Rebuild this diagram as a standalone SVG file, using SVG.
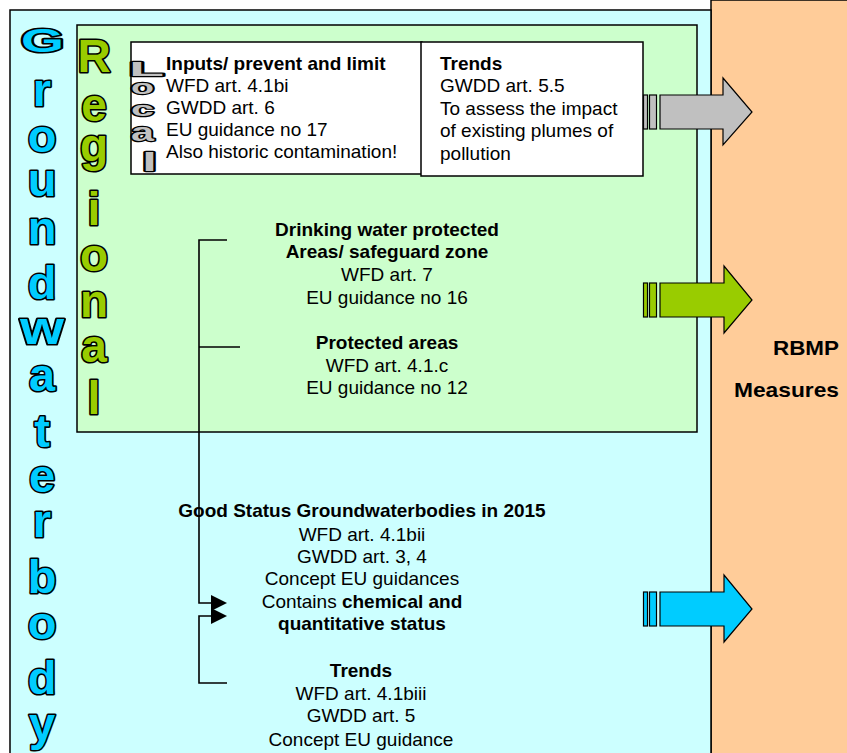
<svg xmlns="http://www.w3.org/2000/svg" width="847" height="753" viewBox="0 0 847 753">
<style>
text{font-family:"Liberation Sans",Arial,sans-serif;fill:#000}
.t{font-size:19px}
.b{font-weight:bold}
.c{text-anchor:middle}
.big{font-size:47px;font-weight:bold;fill:#00CCFF;stroke:#000;stroke-width:3.2px;paint-order:stroke;stroke-linejoin:round;text-anchor:middle}
.reg{font-size:46px;font-weight:bold;fill:#99CC00;stroke:#000;stroke-width:3.2px;paint-order:stroke;stroke-linejoin:round;text-anchor:middle}
.loc{font-weight:bold;fill:#C0C0C0;stroke:#000;stroke-width:2.4px;paint-order:stroke;stroke-linejoin:round}
.ln{fill:none;stroke:#000;stroke-width:1.6}
.arr{stroke:#000;stroke-width:1.2}
.ah{fill:#000}
</style>
<rect width="847" height="753" fill="#FFFFFF"/>
<g id="orange-panel">
<rect x="711" y="0" width="140" height="760" fill="#FFCC99" stroke="#000" stroke-width="1.5"/>
</g>
<g id="groundwaterbody">
<rect x="10" y="10" width="701" height="760" fill="#CCFFFF" stroke="#000" stroke-width="1.5"/>
<text x="21" y="52" style="font-size:34px;font-weight:bold;fill:#00CCFF;stroke:#000;stroke-width:3.2px;paint-order:stroke;stroke-linejoin:round" textLength="43" lengthAdjust="spacingAndGlyphs">G</text>
<text class="big" x="42" y="106">r</text>
<text class="big" x="42" y="152">o</text>
<text class="big" x="42" y="196">u</text>
<text class="big" x="42" y="244">n</text>
<text class="big" x="42" y="299">d</text>
<text class="big" x="42" y="344" textLength="44" lengthAdjust="spacingAndGlyphs">w</text>
<text class="big" x="42" y="391">a</text>
<text class="big" x="42" y="447">t</text>
<text class="big" x="42" y="492">e</text>
<text class="big" x="42" y="537">r</text>
<text class="big" x="42" y="593">b</text>
<text class="big" x="42" y="639">o</text>
<text class="big" x="42" y="694">d</text>
<text class="big" x="42" y="740">y</text>
</g>
<g id="regional">
<rect x="77" y="25" width="620" height="407" fill="#CCFFCC" stroke="#000" stroke-width="1.5"/>
<text class="reg" x="94" y="72">R</text>
<text class="reg" x="94" y="121">e</text>
<text class="reg" x="94" y="161">g</text>
<text class="reg" x="94" y="225">i</text>
<text class="reg" x="94" y="271">o</text>
<text class="reg" x="94" y="317">n</text>
<text class="reg" x="94" y="362">a</text>
<text class="reg" x="94" y="414">l</text>
</g>
<g id="local-box">
<rect x="131" y="42" width="291" height="132" fill="#FFFFFF" stroke="#000" stroke-width="1.5"/>
<text class="loc" x="129" y="76" style="font-size:21px" textLength="35" lengthAdjust="spacingAndGlyphs">L</text>
<text class="loc" x="131" y="94" style="font-size:20px" textLength="23" lengthAdjust="spacingAndGlyphs">o</text>
<text class="loc" x="131" y="116" style="font-size:21px" textLength="23" lengthAdjust="spacingAndGlyphs">c</text>
<text class="loc" x="131" y="141" style="font-size:25px" textLength="23" lengthAdjust="spacingAndGlyphs">a</text>
<text class="loc" x="142" y="171" style="font-size:25px" textLength="15" lengthAdjust="spacingAndGlyphs">l</text>
<text class="t b" x="166" y="70">Inputs/ prevent and limit</text>
<text class="t" x="166" y="92">WFD art. 4.1bi</text>
<text class="t" x="166" y="114">GWDD art. 6</text>
<text class="t" x="166" y="136">EU guidance no 17</text>
<text class="t" x="166" y="158">Also historic contamination!</text>
</g>
<g id="trends-box">
<rect x="421" y="42" width="222" height="134" fill="#FFFFFF" stroke="#000" stroke-width="1.5"/>
<text class="t b" x="440" y="70">Trends</text>
<text class="t" x="440" y="92">GWDD art. 5.5</text>
<text class="t" x="440" y="115">To assess the impact</text>
<text class="t" x="440" y="137">of existing plumes of</text>
<text class="t" x="440" y="160">pollution</text>
</g>
<g id="drinking-water">
<text class="t b c" x="387" y="236">Drinking water protected</text>
<text class="t b c" x="387" y="258">Areas/ safeguard zone</text>
<text class="t c" x="387" y="281">WFD art. 7</text>
<text class="t c" x="387" y="304">EU guidance no 16</text>
</g>
<g id="protected-areas">
<text class="t b c" x="387" y="349">Protected areas</text>
<text class="t c" x="387" y="372">WFD art. 4.1.c</text>
<text class="t c" x="387" y="394">EU guidance no 12</text>
</g>
<g id="good-status">
<text class="t b c" x="362" y="517">Good Status Groundwaterbodies in 2015</text>
<text class="t c" x="362" y="541">WFD art. 4.1bii</text>
<text class="t c" x="362" y="563">GWDD art. 3, 4</text>
<text class="t c" x="362" y="585">Concept EU guidances</text>
<text class="t c" x="362" y="608">Contains <tspan class="b">chemical and</tspan></text>
<text class="t b c" x="362" y="630">quantitative status</text>
</g>
<g id="trends-lower">
<text class="t b c" x="361" y="677">Trends</text>
<text class="t c" x="361" y="700">WFD art. 4.1biii</text>
<text class="t c" x="361" y="722">GWDD art. 5</text>
<text class="t c" x="361" y="746">Concept EU guidance</text>
</g>
<g id="rbmp">
<text x="839" y="355" style="font-size:21px;font-weight:bold;text-anchor:end" textLength="66" lengthAdjust="spacingAndGlyphs">RBMP</text>
<text x="839" y="397" style="font-size:21px;font-weight:bold;text-anchor:end" textLength="105" lengthAdjust="spacingAndGlyphs">Measures</text>
</g>
<g id="arrow-gray">
<rect class="arr" x="643.5" y="95" width="4" height="34" fill="#C0C0C0"/>
<rect class="arr" x="649.5" y="95" width="7" height="34" fill="#C0C0C0"/>
<polygon class="arr" points="660,95 723,95 723,78 752,112 723,145 723,129 660,129" fill="#C0C0C0"/>
</g>
<g id="arrow-green">
<rect class="arr" x="643.5" y="283" width="4" height="34" fill="#99CC00"/>
<rect class="arr" x="649.5" y="283" width="7" height="34" fill="#99CC00"/>
<polygon class="arr" points="660,283 724,283 724,266 752,300 724,333 724,317 660,317" fill="#99CC00"/>
</g>
<g id="arrow-cyan">
<rect class="arr" x="643.5" y="592" width="4" height="34" fill="#00CCFF"/>
<rect class="arr" x="649.5" y="592" width="7" height="34" fill="#00CCFF"/>
<polygon class="arr" points="660,592 724,592 724,575 752,609 724,642 724,626 660,626" fill="#00CCFF"/>
</g>
<g id="connectors">
<path class="ln" d="M227,240 H199 V603 H213"/>
<polygon class="ah" points="211,595 227,603 211,611"/>
<path class="ln" d="M240,347 H199"/>
<path class="ln" d="M227,683 H199 V616 H213"/>
<polygon class="ah" points="211,608 227,616 211,624"/>
</g>
</svg>
